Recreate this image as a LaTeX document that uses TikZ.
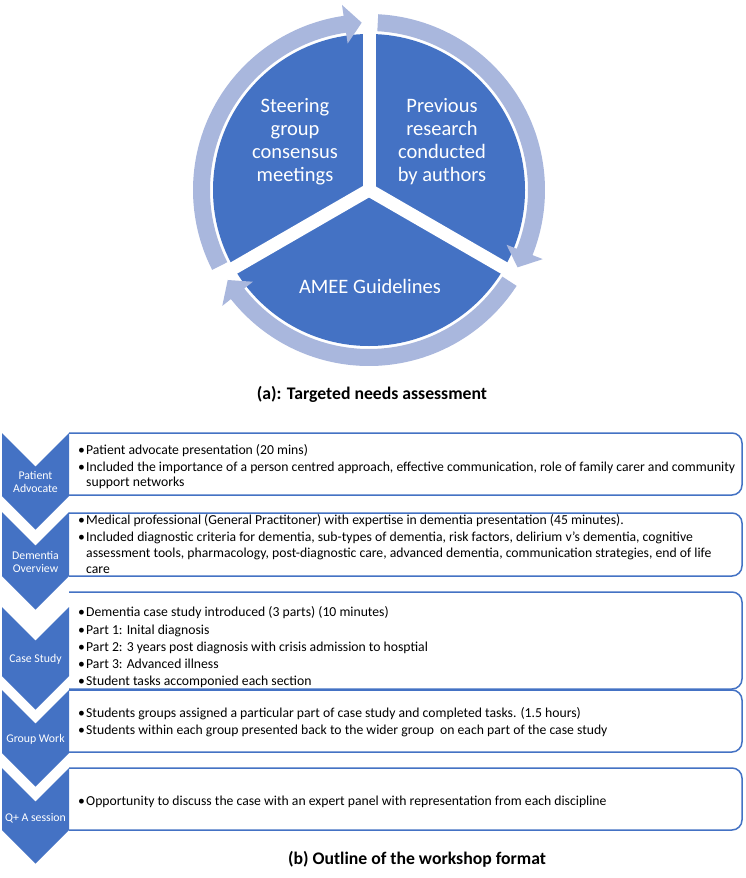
\documentclass[tikz,border=0pt]{standalone}
\usepackage{fontspec}
\setmainfont{Carlito}
\definecolor{mblue}{RGB}{68,114,196}
\definecolor{ringc}{RGB}{169,183,221}
\newcommand\bul{\makebox[8pt][l]{•}}
\begin{document}
\begin{tikzpicture}[x=1pt,y=-1pt,
  chev/.style={fill=mblue},
  tbox/.style={draw=mblue, line width=1.5pt, fill=white, rounded corners=10pt},
  circtxt/.style={text=white, font=\fontsize{20.5}{23}\selectfont, anchor=base, inner sep=0pt},
  chtxt/.style={text=white, font=\fontsize{11.8}{13}\selectfont, anchor=base, inner sep=0pt},
  btxt/.style={font=\fontsize{13.7}{16}\selectfont, anchor=base west, inner sep=0pt},
  captxt/.style={font=\bfseries\fontsize{17.7}{20}\selectfont, anchor=base, inner sep=0pt}]
\useasboundingbox (0,0) rectangle (745,878);
\fill[white] (0,0) rectangle (745,878);

% ---------- (a) segmented cycle ----------
\begin{scope}[shift={(369,190)}, y=1pt]
  \fill[mblue] (0,0) circle[radius=156];
  \foreach \a in {90,-30,210} \draw[white, line width=13pt] (0,0) -- (\a:157);
  \foreach \r in {0,-120,-240}{
    \fill[ringc] ({207+\r}:176) arc[start angle={207+\r}, end angle={98.3+\r}, radius=176]
      -- ({98.3+\r}:187) -- ({92.5+\r}:167.5) -- ({98.3+\r}:148) -- ({98.3+\r}:159)
      arc[start angle={98.3+\r}, end angle={207+\r}, radius=159] -- cycle;
  }
\end{scope}

\node[circtxt] (s1) at (295,112) {Steering};
\node[circtxt] (s2) at (295,135) {group};
\node[circtxt] (s3) at (295,158) {consensus};
\node[circtxt] (s4) at (295,181) {meetings};
\node[circtxt] (p1) at (442,112) {Previous};
\node[circtxt] (p2) at (442,135) {research};
\node[circtxt] (p3) at (442,158) {conducted};
\node[circtxt] (p4) at (442,181) {by authors};
\node[circtxt] (am) at (370,293.5) {AMEE Guidelines};
\node[captxt] (capa) at (372,399) {(a): Targeted needs assessment};

% ---------- (b) vertical chevron list ----------
% boxes
\filldraw[tbox] (69,433) -- (742,433) -- (742,495) -- (69,495);
\filldraw[tbox] (69,513) -- (742,513) -- (742,576) -- (69,576);
\filldraw[tbox] (69,592) -- (742,592) -- (742,689) -- (69,689);
\filldraw[tbox] (69,690) -- (742,690) -- (742,752) -- (69,752);
\filldraw[tbox] (69,768) -- (742,768) -- (742,830) -- (69,830);
% chevrons
\foreach \t/\b in {433/496, 512/576, 607/676, 690/753, 768/830}
  \fill[chev] (2,\t) -- (35.5,\t+33.5) -- (69,\t) -- (69,\b) -- (35.5,\b+33.5) -- (2,\b) -- cycle;

\node[chtxt] (c1a) at (35.5,479) {Patient};
\node[chtxt] (c1b) at (35.5,492) {Advocate};
\node[chtxt] (c2a) at (35.5,559) {Dementia};
\node[chtxt] (c2b) at (35.5,572) {Overview};
\node[chtxt] (c3) at (35.5,662) {Case Study};
\node[chtxt] (c4) at (35.5,742) {Group Work};
\node[chtxt] (c5) at (35.5,821) {Q+ A session};

% box texts
\node[btxt] (t11) at (78,454) {\bul Patient advocate presentation (20 mins)};
\node[btxt] (t12) at (78,471) {\bul Included the importance of a person centred approach, effective communication, role of family carer and community};
\node[btxt] (t13) at (86,486) {support networks};

\node[btxt] (t21) at (78,524) {\bul Medical professional (General Practitoner) with expertise in dementia presentation (45 minutes).};
\node[btxt] (t22) at (78,541) {\bul Included diagnostic criteria for dementia, sub-types of dementia, risk factors, delirium v's dementia, cognitive};
\node[btxt] (t23) at (86,557) {assessment tools, pharmacology, post-diagnostic care, advanced dementia, communication strategies, end of life};
\node[btxt] (t24) at (86,573) {care};

\node[btxt] (t31) at (78,616) {\bul Dementia case study introduced (3 parts) (10 minutes)};
\node[btxt] (t32) at (78,634) {\bul Part 1: Inital diagnosis};
\node[btxt] (t33) at (78,651) {\bul Part 2: 3 years post diagnosis with crisis admission to hosptial};
\node[btxt] (t34) at (78,668) {\bul Part 3: Advanced illness};
\node[btxt] (t35) at (78,685) {\bul Student tasks accomponied each section};

\node[btxt] (t41) at (78,717) {\bul Students groups assigned a particular part of case study and completed tasks. (1.5 hours)};
\node[btxt] (t42) at (78,734) {\bul Students within each group presented back to the wider group\ \ on each part of the case study};

\node[btxt] (t51) at (78,805) {\bul Opportunity to discuss the case with an expert panel with representation from each discipline};

\node[captxt] (capb) at (417,864) {(b) Outline of the workshop format};
\end{tikzpicture}
\end{document}
